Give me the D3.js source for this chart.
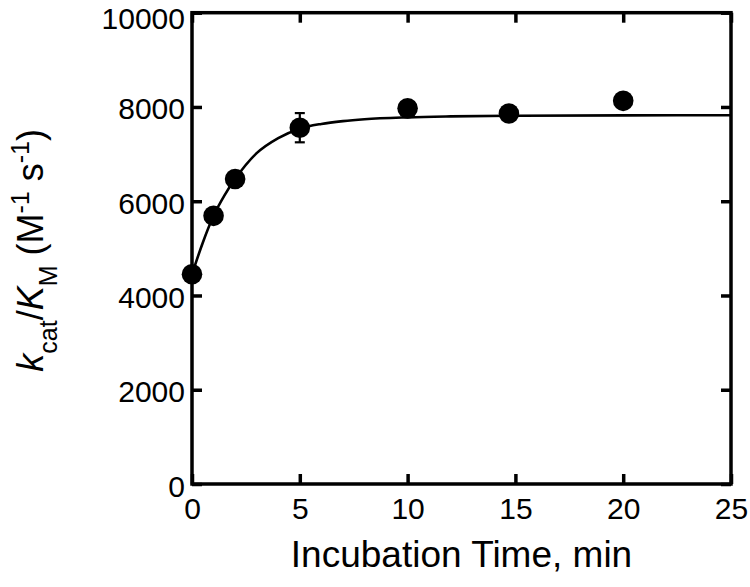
<!DOCTYPE html>
<html>
	<head>
		<script type="text/javascript" src="https://d3js.org/d3.v7.min.js"></script>
		<style>
			body { margin: 0; background: #fff; }
		</style>
	</head>
	<body>
		<svg width="750" height="587"></svg>
		<script type="text/javascript">
		// measured points (incubation time in min, kcat/KM in M-1 s-1)
		var times = [0, 1, 2, 5, 10, 14.7, 20];
		var rates = [4450, 5690, 6470, 7560, 7970, 7860, 8130];
		var errors = [60, 80, 60, 310, 80, 140, 110];

		// fitted curve
		var fitTimes = [0, 0.5, 1, 1.5, 2, 3, 4, 5, 6, 7, 8, 10, 12, 15, 20, 25];
		var fitRates = [4450, 5120, 5690, 6120, 6470, 7020, 7340, 7540, 7640, 7700, 7740, 7780, 7800, 7815, 7822, 7825];

		var xTicks = [0, 5, 10, 15, 20, 25];
		var yTicks = [0, 2000, 4000, 6000, 8000, 10000];

		var points = times.map(function(t, i) { return {t: t, v: rates[i], e: errors[i]}; });
		var fit = fitTimes.map(function(t, i) { return {t: t, v: fitRates[i]}; });

		var svg = d3.select("svg"),
		    margin = {top: 12.7, right: 19, bottom: 103, left: 192},
		    width = +svg.attr("width") - margin.left - margin.right,
		    height = +svg.attr("height") - margin.top - margin.bottom;

		var x = d3.scaleLinear().domain([0, 25]).range([0, width]),
		    y = d3.scaleLinear().domain([0, 10000]).range([height, 0]);

		var g = svg.append("g")
		    .attr("transform", "translate(" + margin.left + "," + margin.top + ")");

		/** axes with inward ticks **/
		g.append("g")
		  .attr("transform", "translate(0," + height + ")")
		  .call(d3.axisBottom(x).tickValues(xTicks).tickFormat(d3.format("d")).tickSizeInner(-10).tickSizeOuter(0).tickPadding(14))
		  .call(styleAxis);

		g.append("g")
		  .call(d3.axisLeft(y).tickValues(yTicks).tickFormat(d3.format("d")).tickSizeInner(-10).tickSizeOuter(0).tickPadding(7))
		  .call(styleAxis)
		  .selectAll("text")
		  .attr("dy", function(d) { return d === 10000 ? "0.52em" : "0.4em"; });

		g.append("g")
		  .call(d3.axisTop(x).tickValues(xTicks).tickSizeInner(-10).tickSizeOuter(0).tickFormat(""))
		  .call(styleAxis);

		g.append("g")
		  .attr("transform", "translate(" + width + ",0)")
		  .call(d3.axisRight(y).tickValues(yTicks).tickSizeInner(-10).tickSizeOuter(0).tickFormat(""))
		  .call(styleAxis);

		g.append("rect")
		  .attr("width", width)
		  .attr("height", height)
		  .attr("fill", "none")
		  .attr("stroke", "#000")
		  .attr("stroke-width", 3.5);

		/** fit line **/
		g.append("path")
		  .datum(fit)
		  .attr("fill", "none")
		  .attr("stroke", "#000")
		  .attr("stroke-width", 2.6)
		  .attr("d", d3.line()
		      .curve(d3.curveMonotoneX)
		      .x(function(d) { return x(d.t); })
		      .y(function(d) { return y(d.v); }));

		/** error bars **/
		var bars = g.selectAll(".err")
		  .data(points)
		  .enter()
		  .append("g")
		  .attr("class", "err")
		  .attr("stroke", "#000")
		  .attr("stroke-width", 2.2);

		bars.append("line")
		  .attr("x1", function(d) { return x(d.t); })
		  .attr("x2", function(d) { return x(d.t); })
		  .attr("y1", function(d) { return y(d.v - d.e); })
		  .attr("y2", function(d) { return y(d.v + d.e); });

		bars.append("line")
		  .attr("x1", function(d) { return x(d.t) - 5; })
		  .attr("x2", function(d) { return x(d.t) + 5; })
		  .attr("y1", function(d) { return y(d.v + d.e); })
		  .attr("y2", function(d) { return y(d.v + d.e); });

		bars.append("line")
		  .attr("x1", function(d) { return x(d.t) - 5; })
		  .attr("x2", function(d) { return x(d.t) + 5; })
		  .attr("y1", function(d) { return y(d.v - d.e); })
		  .attr("y2", function(d) { return y(d.v - d.e); });

		/** points **/
		g.selectAll(".dot")
		  .data(points)
		  .enter()
		  .append("circle")
		  .attr("class", "dot")
		  .attr("cx", function(d) { return x(d.t); })
		  .attr("cy", function(d) { return y(d.v); })
		  .attr("r", 10.3)
		  .attr("fill", "#000");

		/** axis titles **/
		svg.append("text")
		  .attr("x", margin.left + width / 2)
		  .attr("y", 567)
		  .attr("text-anchor", "middle")
		  .style("font-family", "Liberation Sans, Arial, sans-serif")
		  .style("font-size", "37px")
		  .text("Incubation Time, min");

		var ylab = svg.append("text")
		  .attr("transform", "translate(43," + (margin.top + height / 2 + 2) + ") rotate(-90)")
		  .attr("text-anchor", "middle")
		  .style("font-family", "Liberation Sans, Arial, sans-serif")
		  .style("font-size", "36px");

		ylab.append("tspan").style("font-style", "italic").text("k");
		ylab.append("tspan").attr("dy", 14).style("font-size", "25px").text("cat");
		ylab.append("tspan").attr("dy", -14).text("/");
		ylab.append("tspan").style("font-style", "italic").text("K");
		ylab.append("tspan").attr("dy", 14).style("font-size", "25px").text("M");
		ylab.append("tspan").attr("dy", -14).text(" (M");
		ylab.append("tspan").attr("dy", -14).style("font-size", "25px").text("-1");
		ylab.append("tspan").attr("dy", 14).text(" s");
		ylab.append("tspan").attr("dy", -14).style("font-size", "25px").text("-1");
		ylab.append("tspan").attr("dy", 14).text(")");

		function styleAxis(a) {
		  a.select(".domain").remove();
		  a.selectAll("line")
		    .attr("stroke", "#000")
		    .attr("stroke-width", 3.5);
		  a.selectAll("text")
		    .style("font-size", "30px")
		    .style("font-family", "Liberation Sans, Arial, sans-serif")
		    .style("fill", "#000");
		}
		</script>
	</body>
</html>
